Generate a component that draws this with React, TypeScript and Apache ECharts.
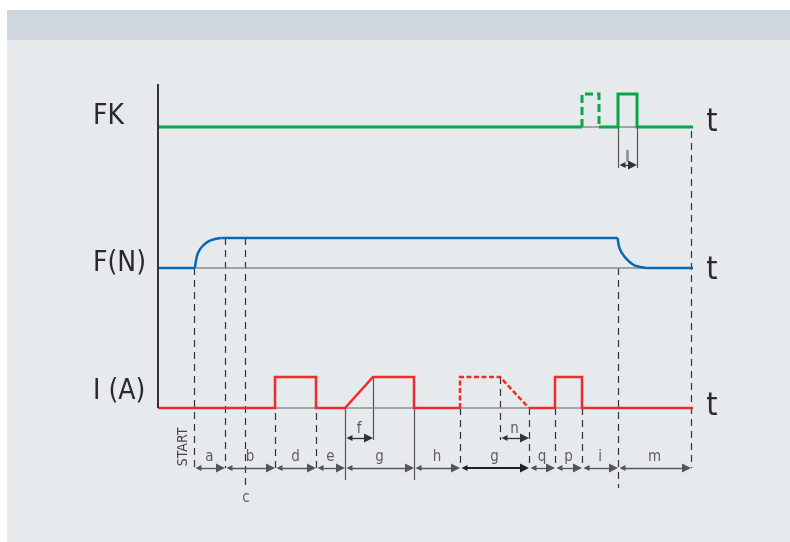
import React, { useEffect, useRef } from 'react';
import * as echarts from 'echarts';

// ---------- data (time units along the t axis, levels 0 = low / 1 = high) ----------
const T_END = 537;
const SEG_BOUNDS = [36, 67, 117, 158, 187, 256, 302, 371, 397, 424, 460, 533];
const SEG_LABELS = ['a', 'b', 'd', 'e', 'g', 'h', 'g', 'q', 'p', 'i', 'm'];
const C_TIME = 87;
const F_SPAN = [187, 215];
const N_SPAN = [342, 371];
const L_SPAN = [460, 479];
const ROW_LABELS = ['FK', 'F(N)', 'I (A)'];
const AXIS_LABEL = 't';

const FK_SOLID_A = [[0, 0], [424, 0]];
const FK_SOLID_B = [[441, 0], [460, 0], [460, 1], [479, 1], [479, 0], [537, 0]];
const FK_DASHED = [[424, 0], [424, 1], [441, 1], [441, 0]];

const F_FLAT_A = [[0, 0], [37, 0]];
const F_RISE = [[37, 0], [38, 0.25], [40, 0.5], [43.7, 0.7], [50, 0.88], [56, 0.96], [63.7, 1]];
const F_FLAT_B = [[63.7, 1], [459.7, 1]];
const F_DECAY = [[459.7, 1], [460.5, 0.8], [462, 0.62], [466, 0.4], [471, 0.22], [477, 0.08], [488.7, 0]];
const F_FLAT_C = [[488.7, 0], [537, 0]];

const I_SOLID_A = [[0, 0], [117, 0], [117, 1], [158, 1], [158, 0], [187, 0], [215, 1], [256, 1], [256, 0], [302, 0]];
const I_DASHED = [[302, 0], [302, 1], [342, 1], [371, 0]];
const I_SOLID_B = [[371, 0], [397, 0], [397, 1], [424, 1], [424, 0], [537, 0]];

// ---------- layout ----------
const ROWS = {
  FK: { base: 127, amp: 33 },
  F: { base: 268, amp: 30 },
  I: { base: 408, amp: 31 },
};
const DIM_Y = 468;
const SUB_DIM_Y = 438;
const FONT = "'Liberation Sans Narrow', 'DejaVu Sans Condensed', 'Liberation Sans', sans-serif";
const GREEN = '#0aa54b';
const BLUE = '#0868b4';
const RED = '#ee2b31';
const GRAY = '#8c8c8c';
const DARK = '#333333';

type Row = { base: number; amp: number };
const toY = (row: Row, pts: number[][]) => pts.map(([t, l]) => [t, row.base - l * row.amp]);

function lineSeries(row: Row, pts: number[][], color: string, width: number, type: any = 'solid', smooth: any = false) {
  return {
    type: 'line',
    data: toY(row, pts),
    symbol: 'none',
    showSymbol: false,
    smooth,
    clip: false,
    silent: true,
    z: 5,
    lineStyle: { color, width, type, cap: 'butt', join: 'miter' },
  };
}

function vLines(items: number[][], color: string, width: number, type: any) {
  return {
    type: 'lines',
    coordinateSystem: 'cartesian2d',
    silent: true,
    z: 3,
    data: items.map(([t, y1, y2]) => ({ coords: [[t, y1], [t, y2]] })),
    lineStyle: { color, width, type, opacity: 1 },
  };
}

const ARROW = 4.5;
function dimLines(spans: number[][], y: number, color: string, width: number) {
  return {
    type: 'lines',
    coordinateSystem: 'cartesian2d',
    silent: true,
    z: 4,
    symbol: ['triangle', 'triangle'],
    symbolSize: [6, 9],
    data: spans.map(([a, b]) => ({ coords: [[a + ARROW, y], [b - ARROW, y]] })),
    lineStyle: { color, width, opacity: 1 },
    itemStyle: { color },
  };
}

function textSeries(items: any[], fontSize: number, color: string) {
  return {
    type: 'scatter',
    symbolSize: 0,
    silent: true,
    clip: false,
    z: 6,
    data: items,
    label: {
      show: true,
      position: 'inside',
      formatter: (p: any) => p.value[2],
      fontSize,
      fontFamily: FONT,
      color,
      align: 'center',
      verticalAlign: 'middle',
    },
  };
}

export default function App() {
  const ref = useRef<HTMLDivElement>(null);
  useEffect(() => {
    if (!ref.current) return;
    const chart = echarts.init(ref.current, undefined, { renderer: 'svg' });

    const segSpans = SEG_BOUNDS.slice(0, -1).map((b, i) => [b, SEG_BOUNDS[i + 1]]);
    const gIdx = 6;
    const normalSpans = segSpans.filter((_, i) => i !== gIdx);

    const dashedV = [
      [SEG_BOUNDS[0], ROWS.F.base, DIM_Y],
      [SEG_BOUNDS[1], ROWS.F.base - ROWS.F.amp, DIM_Y],
      [C_TIME, ROWS.F.base - ROWS.F.amp, 488],
      [SEG_BOUNDS[2], ROWS.I.base - ROWS.I.amp, DIM_Y],
      [SEG_BOUNDS[3], ROWS.I.base - ROWS.I.amp, DIM_Y],
      [SEG_BOUNDS[6], ROWS.I.base, DIM_Y],
      [N_SPAN[0], ROWS.I.base - ROWS.I.amp, SUB_DIM_Y + 2],
      [SEG_BOUNDS[7], ROWS.I.base, DIM_Y],
      [SEG_BOUNDS[8], ROWS.I.base, DIM_Y],
      [SEG_BOUNDS[9], ROWS.I.base, DIM_Y],
      [SEG_BOUNDS[10], ROWS.F.base, 488],
      [SEG_BOUNDS[11], ROWS.FK.base + 4, DIM_Y],
    ];
    const solidV = [
      [SEG_BOUNDS[4], ROWS.I.base, 480],
      [F_SPAN[1], ROWS.I.base - ROWS.I.amp, SUB_DIM_Y + 2],
      [SEG_BOUNDS[5], ROWS.I.base, 480],
      [L_SPAN[0], ROWS.FK.base, 168],
      [L_SPAN[1], ROWS.FK.base, 168],
    ];

    const segTexts = segSpans.map(([a, b], i) => [(a + b) / 2, DIM_Y - 12, SEG_LABELS[i]]);
    const subTexts = [
      [(F_SPAN[0] + F_SPAN[1]) / 2, SUB_DIM_Y - 10, 'f'],
      [(N_SPAN[0] + N_SPAN[1]) / 2, SUB_DIM_Y - 10, 'n'],
      [C_TIME + 1, 497, 'c'],
    ];

    const option: any = {
      animation: false,
      grid: { left: 158, top: 0, width: 533, height: 542, containLabel: false },
      xAxis: { type: 'value', min: 0, max: 533, show: false },
      yAxis: { type: 'value', min: 0, max: 542, inverse: true, show: false },
      graphic: [
        { type: 'rect', z: -10, shape: { x: 7, y: 10, width: 783, height: 532 }, style: { fill: '#e7eaed' } },
        { type: 'rect', z: -9, shape: { x: 7, y: 10, width: 783, height: 30 }, style: { fill: '#cfd6de' } },
        ...ROW_LABELS.map((txt, i) => ({
          type: 'text',
          z: 10,
          x: 93,
          y: [114, 261, 389][i],
          style: { text: txt, fontSize: 28, fontFamily: FONT, fill: '#2a2a2a', align: 'left', verticalAlign: 'middle' },
        })),
        ...[120, 268, 404].map((y) => ({
          type: 'text',
          z: 10,
          x: 712,
          y,
          style: { text: AXIS_LABEL, fontSize: 32, fontFamily: FONT, fill: '#2a2a2a', align: 'center', verticalAlign: 'middle' },
        })),
        {
          type: 'text',
          z: 10,
          x: 182,
          y: 447,
          rotation: Math.PI / 2,
          style: { text: 'START', fontSize: 14, fontFamily: FONT, fill: '#444', align: 'center', verticalAlign: 'middle' },
        },
      ],
      series: [
        // gray baselines
        lineSeries(ROWS.FK, [[0, 0], [T_END, 0]], GRAY, 1.5),
        lineSeries(ROWS.F, [[0, 0], [T_END, 0]], GRAY, 1.5),
        lineSeries(ROWS.I, [[0, 0], [T_END, 0]], GRAY, 1.5),
        // vertical time axis
        {
          ...vLines([[0, 84, ROWS.I.base]], DARK, 2, 'solid'),
          z: 7,
        },
        vLines(dashedV, DARK, 1.2, [7, 5]),
        vLines(solidV, '#555', 1.2, 'solid'),
        dimLines(normalSpans, DIM_Y, '#555', 1.3),
        dimLines([segSpans[gIdx]], DIM_Y, '#222', 1.8),
        dimLines([F_SPAN, N_SPAN], SUB_DIM_Y, '#333', 1.3),
        dimLines([L_SPAN], 165, '#333', 1.3),
        // FK
        lineSeries(ROWS.FK, FK_SOLID_A, GREEN, 3),
        lineSeries(ROWS.FK, FK_SOLID_B, GREEN, 3),
        lineSeries(ROWS.FK, FK_DASHED, GREEN, 3, [8, 4]),
        // F
        lineSeries(ROWS.F, F_FLAT_A, BLUE, 2.5),
        lineSeries(ROWS.F, F_RISE, BLUE, 2.5, 'solid', 0.4),
        lineSeries(ROWS.F, F_FLAT_B, BLUE, 2.5),
        lineSeries(ROWS.F, F_DECAY, BLUE, 2.5, 'solid', 0.4),
        lineSeries(ROWS.F, F_FLAT_C, BLUE, 2.5),
        // I
        lineSeries(ROWS.I, I_SOLID_A, RED, 2.5),
        lineSeries(ROWS.I, I_DASHED, RED, 2.5, [5, 2.5]),
        lineSeries(ROWS.I, I_SOLID_B, RED, 2.5),
        // texts
        textSeries(segTexts, 15, '#3a3a3a'),
        textSeries(subTexts, 15, '#3a3a3a'),
        {
          ...textSeries([[(L_SPAN[0] + L_SPAN[1]) / 2, 156, 'l']], 16, '#777'),
          label: {
            show: true, position: 'inside', formatter: (p: any) => p.value[2],
            fontSize: 16, fontWeight: 'bold', fontFamily: FONT, color: '#777', align: 'center', verticalAlign: 'middle',
          },
        },
      ],
    };
    chart.setOption(option);
    return () => chart.dispose();
  }, []);

  return <div ref={ref} style={{ position: 'fixed', left: 0, top: 0, width: 790, height: 542 }} />;
}
